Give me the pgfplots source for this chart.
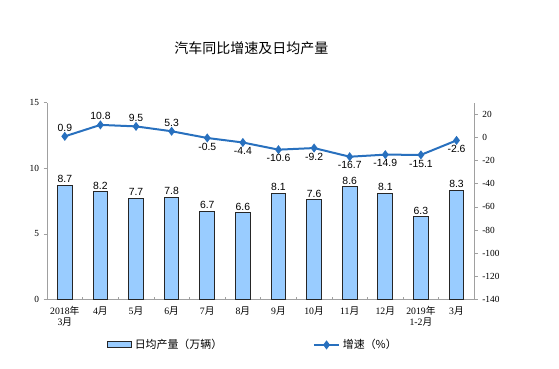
\documentclass[border=0pt]{standalone}
\usepackage{pgfplots}
\pgfplotsset{compat=1.18}
\usepackage{fontspec}
\setmainfont{Liberation Serif}
\newfontfamily\cjk{Noto Sans CJK SC}
\newfontfamily\arial{Liberation Sans}
\definecolor{barblue}{RGB}{153,204,255}
\definecolor{lineblue}{RGB}{40,112,190}
\definecolor{axgray}{RGB}{160,160,160}
\pgfplotsset{
  barleg/.style={legend image code/.code={\draw[fill=barblue,draw=black!85,line width=0.75pt] (0pt,-2.2pt) rectangle (18pt,2.2pt);}},
  lineleg/.style={legend image code/.code={\draw[mark repeat=2,mark phase=2,##1] plot coordinates {(0pt,0pt) (9.5pt,0pt) (19pt,0pt)};}},
}
\begin{document}
\begin{tikzpicture}
\path (0,0) rectangle (419.25pt,276pt);
\node[font=\cjk\fontsize{10.5}{12}\selectfont] at (188.6pt,240pt) {汽车同比增速及日均产量};
\begin{axis}[
  at={(35.25pt,51.4pt)}, anchor=south west,
  scale only axis, width=320.5pt, height=147.6pt,
  xmin=-0.5, xmax=11.5, ymin=0, ymax=15,
  ytick={0,5,10,15},
  axis y line*=left, axis x line*=bottom,
  axis line style={axgray, line width=0.6pt},
  every tick/.style={axgray, line width=0.5pt},
  tick align=outside, major tick length=2.5pt, minor tick length=2pt,
  xtick={0,...,11}, major x tick style={draw=none},
  minor xtick={0.5,1.5,...,10.5},
  minor x tick style={yshift=2pt},
  xticklabels={{2018{\cjk 年}\\3{\cjk 月}},{4{\cjk 月}},{5{\cjk 月}},{6{\cjk 月}},{7{\cjk 月}},{8{\cjk 月}},{9{\cjk 月}},{10{\cjk 月}},{11{\cjk 月}},{12{\cjk 月}},{2019{\cjk 年}\\1-2{\cjk 月}},{3{\cjk 月}}},
  xticklabel style={align=center, font=\fontsize{7.3}{8}\selectfont, inner sep=2.5pt},
  yticklabel style={font=\fontsize{7}{8}\selectfont},
  /pgf/number format/assume math mode=true,
  ybar, bar width=11pt,
  nodes near coords,
  nodes near coords style={font=\arial\fontsize{7.8}{8}\selectfont, /pgf/number format/fixed, /pgf/number format/fixed zerofill, /pgf/number format/precision=1, inner sep=1.5pt},
]
\addplot[fill=barblue, draw=black!85, line width=0.75pt] coordinates {
(0,8.7) (1,8.2) (2,7.7) (3,7.8) (4,6.7) (5,6.6) (6,8.1) (7,7.6) (8,8.6) (9,8.1) (10,6.3) (11,8.3)};
\end{axis}
\begin{axis}[
  at={(35.25pt,51.4pt)}, anchor=south west,
  scale only axis, width=320.5pt, height=147.6pt,
  xmin=-0.5, xmax=11.5, ymin=-140, ymax=30,
  ytick={-140,-120,...,20},
  axis y line*=right, axis x line=none,
  axis line style={axgray, line width=0.6pt},
  every tick/.style={axgray, line width=0.5pt},
  tick align=outside, major tick length=2.5pt,
  yticklabel style={font=\fontsize{7}{8}\selectfont},
  /pgf/number format/assume math mode=true,
  legend style={at={(0.14,-0.231)}, anchor=west, draw=none, fill=none, inner sep=0pt,
    font=\cjk\fontsize{8.2}{9}\selectfont},
  legend columns=2,
]
\addlegendimage{barleg}
\addlegendentry{日均产量（万辆）\hspace*{66pt}}
\addplot[color=lineblue, line width=1.5pt, mark=diamond*, mark size=2.2pt,
  nodes near coords,
  nodes near coords style={font=\arial\fontsize{7.8}{8}\selectfont, black, inner sep=3pt, /pgf/number format/fixed, /pgf/number format/precision=1},
  lineleg
] coordinates {
(0,0.9) (1,10.8) (2,9.5) (3,5.3) (4,-0.5) (5,-4.4) (6,-10.6) (7,-9.2) (8,-16.7) (9,-14.9) (10,-15.1) (11,-2.6)};
\addlegendentry{增速（\%）}
\end{axis}
\end{tikzpicture}
\end{document}
